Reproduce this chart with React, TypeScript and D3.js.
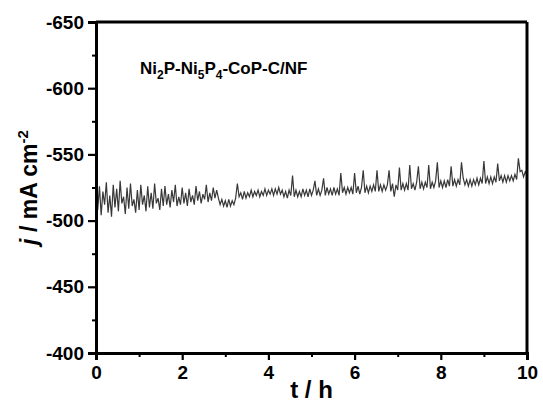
import React, { useRef, useEffect } from "react";
import * as d3 from "d3";

const W = 543;
const H = 406;
const margin = { top: 22, right: 16, bottom: 53, left: 96 };
const FONT = "'Liberation Sans', Arial, Helvetica, sans-serif";

const xTicks = [0, 2, 4, 6, 8, 10];
const xMinor = [1, 3, 5, 7, 9];
const yTicks = [-400, -450, -500, -550, -600, -650];
const yMinor = [-425, -475, -525, -575, -625];

// current density (mA cm-2), sampled evenly from t = 0 h to t = 10 h
const earlyNoisy = [
  -531, -508, -526, -504, -522, -512, -529, -506, -519, -503,
  -527, -510, -524, -507, -530, -513, -518, -505, -525, -509,
  -528, -511, -516, -506, -523, -508, -527, -512, -519, -507,
  -526, -510, -521, -509, -528, -513, -517, -508, -524, -511,
  -526, -512, -520, -510, -523, -514, -527, -511, -518, -512,
  -525, -513, -521, -511, -524, -514, -519, -512, -526, -515,
  -522, -513, -520, -516, -527, -514, -521, -515, -525, -517,
  -523,
];
const afterDrop = [
  -517, -512, -516, -511, -515, -510, -516, -511, -515, -512, -517,
  -528, -518,
];
const plateau = [
  -521, -516, -522, -517, -521, -518, -523, -518, -522, -519,
  -523, -518, -522, -519, -524, -519, -523, -520, -524, -519,
  -524, -520, -525, -520,
];
const slowRise = [
  -523, -518, -522, -517, -523, -519, -534, -518, -523, -518,
  -522, -518, -524, -519, -523, -518, -524, -519, -523, -530,
  -519, -524, -519, -523, -532, -519, -525, -520, -524, -519,
  -525, -520, -524, -519, -536, -521, -525, -520, -525, -521,
  -525, -520, -536, -521, -526, -520, -525, -538, -521, -526,
  -521, -526, -522, -527, -522, -538, -522, -527, -522, -527,
  -523, -527, -538, -522, -528, -518, -527, -523, -540, -523,
  -528, -523, -528, -523, -542, -524, -528, -523, -529, -541,
  -524, -529, -524, -529, -525, -542, -524, -529, -525, -530,
  -544, -525, -530, -525, -530, -525, -531, -526, -541, -526,
  -531, -526, -531, -527, -544, -532, -527, -531, -526, -531,
  -526, -531, -527, -532, -527, -532, -528, -545, -528, -533,
  -528, -533, -528, -533, -529, -543, -530, -534, -529, -534,
  -529, -534, -530, -534, -530, -535, -531, -547, -537, -538,
  -533, -537, -534,
];

const current = [...earlyNoisy, ...afterDrop, ...plateau, ...slowRise];

const fmt = (v: number) => String(v);

const Chart = () => {
  const svgRef = useRef<SVGSVGElement>(null);

  useEffect(() => {
    const svg = d3.select(svgRef.current);
    svg.selectAll("*").remove();

    const iw = W - margin.left - margin.right;
    const ih = H - margin.top - margin.bottom;
    const dt = 10 / (current.length - 1);

    const x = d3.scaleLinear().domain([0, 10]).range([0, iw]);
    const y = d3.scaleLinear().domain([-400, -650]).range([ih, 0]);

    const g = svg
      .append("g")
      .attr("transform", `translate(${margin.left},${margin.top})`);

    // data line
    const line = d3
      .line<number>()
      .x((_, i) => x(i * dt))
      .y((d) => y(d));

    g.append("path")
      .datum(current)
      .attr("fill", "none")
      .attr("stroke", "#383838")
      .attr("stroke-width", 1.2)
      .attr("stroke-linejoin", "miter")
      .attr("d", line);

    // frame (top + right)
    g.append("line")
      .attr("x1", 0).attr("x2", iw).attr("y1", 0).attr("y2", 0)
      .attr("stroke", "#000").attr("stroke-width", 3);
    g.append("line")
      .attr("x1", iw).attr("x2", iw).attr("y1", 0).attr("y2", ih)
      .attr("stroke", "#000").attr("stroke-width", 3);

    // minor ticks
    g.append("g")
      .attr("transform", `translate(0,${ih})`)
      .call(d3.axisBottom(x).tickValues(xMinor).tickSize(4).tickFormat(() => ""))
      .call((a) => a.select(".domain").remove())
      .selectAll("line").attr("stroke-width", 2);
    g.append("g")
      .call(d3.axisLeft(y).tickValues(yMinor).tickSize(4).tickFormat(() => ""))
      .call((a) => a.select(".domain").remove())
      .selectAll("line").attr("stroke-width", 2);

    // major axes
    const xAxis = g
      .append("g")
      .attr("transform", `translate(0,${ih})`)
      .call(d3.axisBottom(x).tickValues(xTicks).tickSize(7).tickPadding(6).tickFormat((d) => fmt(d as number)));
    xAxis.select(".domain").attr("stroke-width", 3);
    xAxis.selectAll("line").attr("stroke-width", 2.2);
    xAxis.selectAll("text")
      .attr("font-family", FONT)
      .attr("font-weight", "bold")
      .attr("font-size", 19)
      .attr("fill", "#000");

    const yAxis = g
      .append("g")
      .call(d3.axisLeft(y).tickValues(yTicks).tickSize(8).tickPadding(4).tickFormat((d) => fmt(d as number)));
    yAxis.select(".domain").attr("stroke-width", 3);
    yAxis.selectAll("line").attr("stroke-width", 2.2);
    yAxis.selectAll("text")
      .attr("font-family", FONT)
      .attr("font-weight", "bold")
      .attr("font-size", 19)
      .attr("fill", "#000");

    // axis titles
    svg.append("text")
      .attr("x", margin.left + iw / 2)
      .attr("y", 398)
      .attr("text-anchor", "middle")
      .attr("font-family", FONT)
      .attr("font-weight", "bold")
      .attr("font-size", 24)
      .text("t / h");

    const yt = svg.append("text")
      .attr("transform", `translate(37,${margin.top + ih / 2}) rotate(-90)`)
      .attr("text-anchor", "middle")
      .attr("font-family", FONT)
      .attr("font-weight", "bold")
      .attr("font-size", 23);
    yt.append("tspan").attr("font-style", "italic").text("j");
    yt.append("tspan").text(" / mA cm");
    yt.append("tspan").attr("font-size", 15).attr("dy", -9).text("-2");

    // sample label
    const lab = svg.append("text")
      .attr("x", 140)
      .attr("y", 74)
      .attr("font-family", FONT)
      .attr("font-weight", "bold")
      .attr("font-size", 17);
    const parts: [string, boolean][] = [
      ["Ni", false], ["2", true], ["P-Ni", false], ["5", true],
      ["P", false], ["4", true], ["-CoP-C/NF", false],
    ];
    let sub = false;
    parts.forEach(([s, isSub]) => {
      const dy = isSub && !sub ? 5 : !isSub && sub ? -5 : 0;
      lab.append("tspan")
        .attr("font-size", isSub ? 12 : 17)
        .attr("dy", dy)
        .text(s);
      sub = isSub;
    });
  }, []);

  return <svg ref={svgRef} width={W} height={H} style={{ position: "absolute", left: 0, top: 0, background: "#fff" }} />;
};

export default function App() {
  return <Chart />;
}
